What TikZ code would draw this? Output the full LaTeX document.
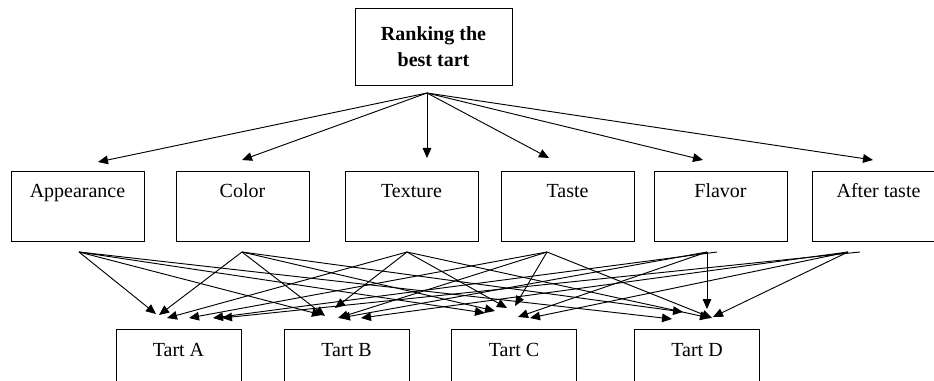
\documentclass[tikz,border=0pt]{standalone}
\usepackage{fontspec}
\setmainfont{Liberation Serif}
\usetikzlibrary{arrows.meta}

\begin{document}
\begin{tikzpicture}[x = 0.75pt, y = -0.75pt,
  crit/.style = {draw, line width = 0.75pt, inner sep = 0pt, anchor = north, minimum width = 99.75pt, text height = 19.5pt, text depth = 33pt, font = \fontsize{15}{18}\selectfont},
  tart/.style = {crit, minimum width = 93.75pt, text height = 20.25pt, text depth = 40pt},
  arr/.style = {-{Triangle[length = 7.5pt, width = 6.5pt]}, line width = 0.7pt}]
\useasboundingbox (0, 0) rectangle (934, 381);

\node[draw, line width = 0.75pt, minimum width = 117.75pt, minimum height = 57.75pt, align = center, font = \bfseries\fontsize{15}{19.5}\selectfont] (rank) at (433.5, 47) {Ranking the\\best tart};

\node[crit] (app) at (77.5, 171) {Appearance};
\node[crit] (col) at (242.5, 171) {Color};
\node[crit] (tex) at (411.5, 171) {Texture};
\node[crit] (tas) at (567.5, 171) {Taste};
\node[crit] (fla) at (720.5, 171) {Flavor};
\node[crit] (aft) at (878.5, 171) {After taste};

\node[tart] (tA) at (178.5, 329) {Tart A};
\node[tart] (tB) at (346.5, 329) {Tart B};
\node[tart] (tC) at (514, 329) {Tart C};
\node[tart] (tD) at (697, 329) {Tart D};

% goal to criteria
\coordinate (hub) at (427, 93);
\foreach \n/\x/\y in {app/98/162, col/242/160, tex/427/158, tas/549/158, fla/703/160, aft/873/160} {
  \coordinate (\n-in) at (\x, \y);
  \draw[arr] (hub) -- (\n-in);
}

% criteria to tarts
\coordinate (app-out) at (79, 252);
\coordinate (col-out) at (242, 252);
\coordinate (tex-out) at (407, 252);
\coordinate (tas-out) at (547, 252);
\coordinate (fla-out) at (707, 252);
\coordinate (fla-far) at (717, 252);
\coordinate (aft-out) at (848, 252);
\coordinate (aft-far) at (860, 252);
\foreach \s/\n/\x/\y in {app-out/appA/156/314, app-out/appB/322/315, app-out/appC/485/313, app-out/appD/672/319,
  col-out/colA/159/315, col-out/colB/325/316, col-out/colC/495/311, col-out/colD/683/312,
  tex-out/texA/167/318, tex-out/texB/335/308, tex-out/texC/507/308, tex-out/texD/710/318,
  tas-out/tasA/189/318, tas-out/tasB/338/318, tas-out/tasC/515/306, tas-out/tasD/712/318,
  fla-far/flaA/213/318, fla-out/flaB/340/318, fla-out/flaC/518/317, fla-out/flaD/707/309,
  aft-far/aftA/222/318, aft-out/aftB/361/318, aft-out/aftC/530/318, aft-out/aftD/713/317} {
  \coordinate (\n) at (\x, \y);
  \draw[arr] (\s) -- (\n);
}
\end{tikzpicture}
\end{document}
